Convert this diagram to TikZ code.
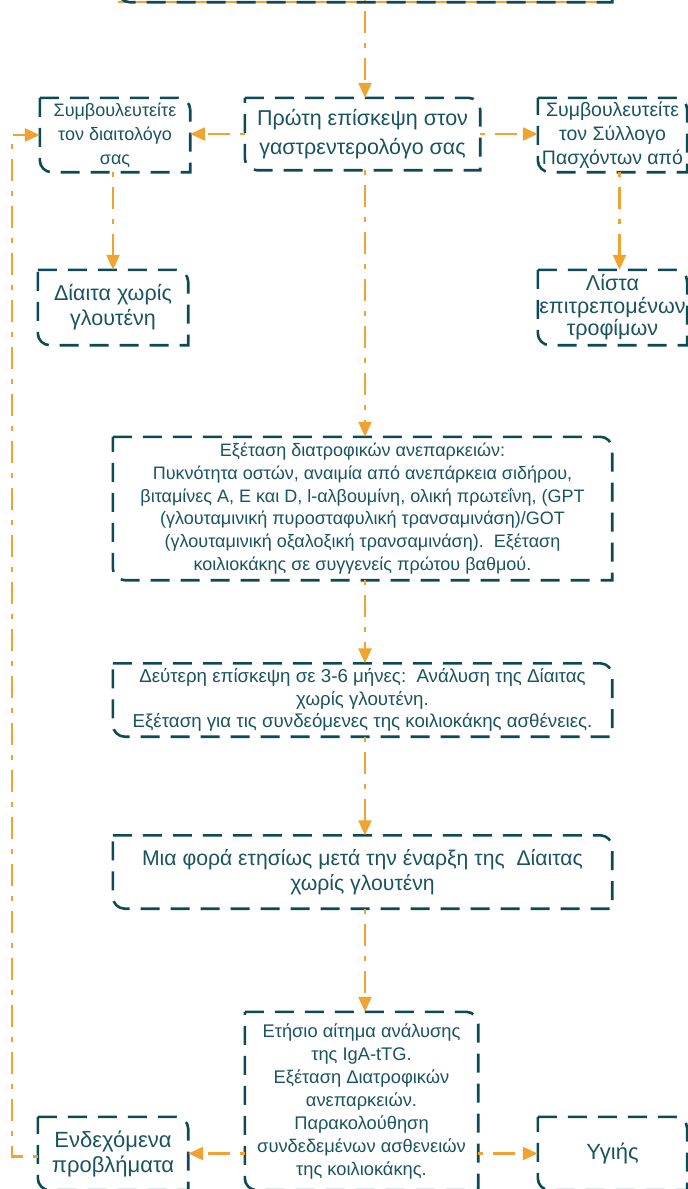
\documentclass[tikz,border=0pt]{standalone}
\usepackage{fontspec}
\setmainfont{Liberation Sans}
\usetikzlibrary{arrows.meta}
\definecolor{edgecol}{HTML}{0E4A55}
\definecolor{txtcol}{HTML}{1A5360}
\definecolor{orgcol}{HTML}{F0A330}
\tikzset{
  box/.style={draw=none, text=txtcol, align=center, inner sep=0pt},
  boxedge/.style={draw=edgecol, line width=2.6pt, dash pattern=on 19pt off 11pt},
  conn/.style={draw=orgcol, line width=2.6pt, dash pattern=on 5pt off 10pt on 22pt off 10pt,
    -{Triangle[length=15pt,width=13pt]}},
}
\newcommand\snipbox[1]{\draw[boxedge] (#1.north west) -- ([xshift=-12pt]#1.north east)
  arc[start angle=90,end angle=0,radius=12pt] -- (#1.south east) -- ([xshift=12pt]#1.south west)
  arc[start angle=270,end angle=180,radius=12pt] -- cycle;}
\begin{document}
\begin{tikzpicture}[x=1pt,y=-1pt]
\useasboundingbox (0,0) rectangle (688,1189);
\node[box, minimum width=494pt, minimum height=84pt] (top) at (365,-40) {};
\node[box, minimum width=235pt, minimum height=72pt, font=\fontsize{21.5}{29}\selectfont] (p1) at (362.5,134)
  {Πρώτη επίσκεψη στον\\γαστρεντερολόγο σας};
\node[box, minimum width=150pt, minimum height=74pt, font=\fontsize{18}{24}\selectfont] (dl) at (115,135)
  {Συμβουλευτείτε\\τον διαιτολόγο\\σας};
\node[box, minimum width=149pt, minimum height=74pt, font=\fontsize{19.5}{24}\selectfont] (sl) at (612.5,135)
  {Συμβουλευτείτε\\τον Σύλλογο\\Πασχόντων από};
\node[box, minimum width=150pt, minimum height=75pt, font=\fontsize{21.5}{25}\selectfont] (diet) at (113,307.5)
  {Δίαιτα χωρίς\\γλουτένη};
\node[box, minimum width=149pt, minimum height=75pt, font=\fontsize{21.5}{22.5}\selectfont] (list) at (612.5,307.5)
  {Λίστα\\επιτρεπομένων\\τροφίμων};
\node[box, minimum width=499pt, minimum height=143pt, font=\fontsize{18}{22.8}\selectfont] (big) at (362.5,508.5)
  {Εξέταση διατροφικών ανεπαρκειών:\\Πυκνότητα οστών, αναιμία από ανεπάρκεια σιδήρου,\\βιταμίνες Α, Ε και D, l-αλβουμίνη, ολική πρωτεΐνη, (GPT\\(γλουταμινική πυροσταφυλική τρανσαμινάση)/GOT\\(γλουταμινική οξαλοξική τρανσαμινάση).\ \ Εξέταση\\κοιλιοκάκης σε συγγενείς πρώτου βαθμού.};
\node[box, minimum width=499pt, minimum height=73pt, font=\fontsize{18.7}{22.5}\selectfont] (second) at (362.5,700)
  {Δεύτερη επίσκεψη σε 3-6 μήνες:\ \ Ανάλυση της Δίαιτας\\χωρίς γλουτένη.\\Εξέταση για τις συνδεόμενες της κοιλιοκάκης ασθένειες.};
\node[box, minimum width=499pt, minimum height=73pt, font=\fontsize{21.2}{25}\selectfont] (annual) at (362.5,872)
  {Μια φορά ετησίως μετά την έναρξη της\ \ Δίαιτας\\χωρίς γλουτένη};
\node[box, minimum width=233pt, minimum height=178pt, font=\fontsize{18.3}{23}\selectfont] (bc) at (361.5,1101)
  {Ετήσιο αίτημα ανάλυσης\\της IgA-tTG.\\Εξέταση Διατροφικών\\ανεπαρκειών.\\Παρακολούθηση\\συνδεδεμένων ασθενειών\\της κοιλιοκάκης.};
\node[box, minimum width=150pt, minimum height=73pt, font=\fontsize{22}{25}\selectfont] (prob) at (113,1153.5)
  {Ενδεχόμενα\\προβλήματα};
\node[box, minimum width=149pt, minimum height=73pt, font=\fontsize{22}{25}\selectfont] (healthy) at (612.5,1153.5)
  {Υγιής};
% orange line under top box edge
\draw[orgcol, line width=2pt] (top.south west) -- (top.south east);
\foreach \n in {top,p1,dl,sl,diet,list,big,second,annual,bc,prob,healthy}{\snipbox{\n}}
% connectors
\draw[conn] ([yshift=6pt]top.south) -- (top.south |- p1.north);
\draw[conn] (p1.west) -- (p1.west -| dl.east);
\draw[conn] (p1.east) -- (p1.east -| sl.west);
\draw[conn] ([xshift=-2pt]dl.south) -- (diet.north);
\draw[conn] ([xshift=7pt]sl.south) -- ([xshift=7pt]list.north);
\draw[conn] ([xshift=2.5pt]p1.south) -- ([xshift=2.5pt]big.north);
\draw[conn] ([xshift=2.5pt]big.south) -- ([xshift=2.5pt]second.north);
\draw[conn] ([xshift=2.5pt]second.south) -- ([xshift=2.5pt]annual.north);
\draw[conn] ([xshift=2.5pt]annual.south) -- ([xshift=2.5pt]annual.south |- bc.north);
\draw[conn] (bc.west |- prob) -- (prob.east);
\draw[conn] (bc.east |- healthy) -- (healthy.west);
\draw[conn] ([yshift=-3pt]prob.west) -- ++(-26,0) |- (dl.west);
\end{tikzpicture}
\end{document}
